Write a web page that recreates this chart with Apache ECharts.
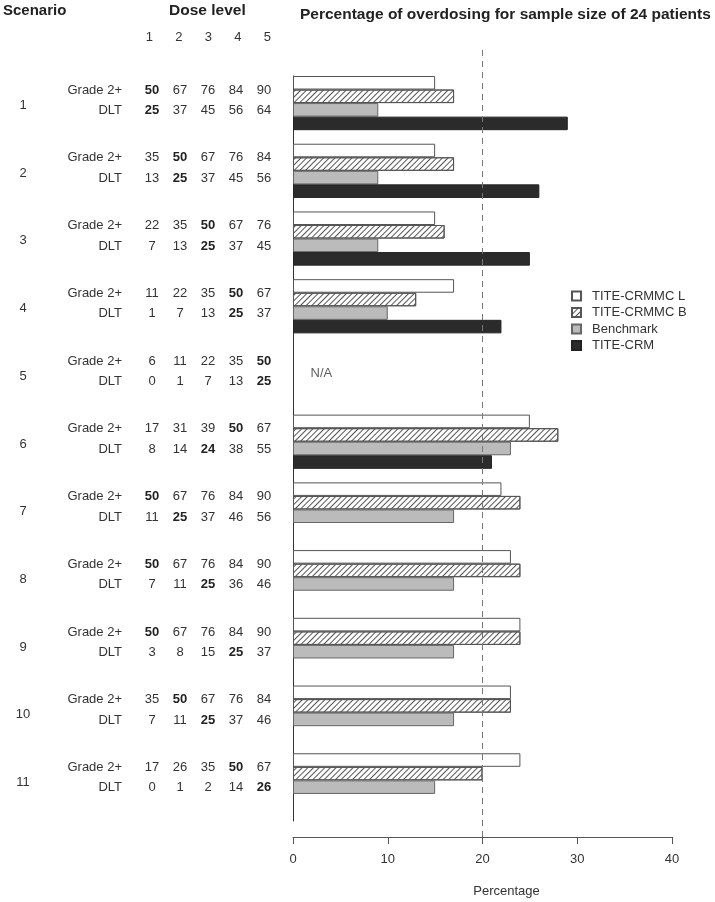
<!DOCTYPE html>
<html>
<head>
<meta charset="utf-8">
<script src="https://cdn.jsdelivr.net/npm/echarts@6/dist/echarts.min.js"></script>
<style>
  html, body { margin: 0; padding: 0; background: #fff; }
  #chart { width: 715px; height: 902px; }
</style>
</head>
<body>
<div id="chart"></div>
<script>
// scenarios and dose levels
const scenarios = ['1', '2', '3', '4', '5', '6', '7', '8', '9', '10', '11'];
const doseLevels = ['1', '2', '3', '4', '5'];

// percentage of overdosing (null = not available)
const titeCrmmcL = [15, 15, 15, 17, null, 25, 22, 23, 24, 23, 24];
const titeCrmmcB = [17, 17, 16, 13, null, 28, 24, 24, 24, 23, 20];
const benchmark  = [9, 9, 9, 10, null, 23, 17, 17, 17, 17, 15];
const titeCrm    = [29, 26, 25, 22, null, 21, null, null, null, null, null];

// true toxicity probabilities (%) per dose level
const grade2 = [
  [50, 67, 76, 84, 90], [35, 50, 67, 76, 84], [22, 35, 50, 67, 76], [11, 22, 35, 50, 67],
  [6, 11, 22, 35, 50], [17, 31, 39, 50, 67], [50, 67, 76, 84, 90], [50, 67, 76, 84, 90],
  [50, 67, 76, 84, 90], [35, 50, 67, 76, 84], [17, 26, 35, 50, 67]
];
const dlt = [
  [25, 37, 45, 56, 64], [13, 25, 37, 45, 56], [7, 13, 25, 37, 45], [1, 7, 13, 25, 37],
  [0, 1, 7, 13, 25], [8, 14, 24, 38, 55], [11, 25, 37, 46, 56], [7, 11, 25, 36, 46],
  [3, 8, 15, 25, 37], [7, 11, 25, 37, 46], [0, 1, 2, 14, 26]
];
// index of the target dose (bold)
const grade2Mtd = [0, 1, 2, 3, 4, 3, 0, 0, 0, 1, 3];
const dltMtd    = [0, 1, 2, 3, 4, 2, 1, 2, 3, 2, 4];
const rowNames = ['Grade 2+', 'DLT'];

const naScenario = 4;   // scenario 5 has no results
const naX = 3;

const FONT = "'Liberation Sans', Arial, sans-serif";
const TXT = '#333';

const chart = echarts.init(document.getElementById('chart'));

const row = (vals, bold) => vals.map((v, j) => j === bold ? '{b|' + v + '}' : '{v|' + v + '}').join('');

const barBase = {
  type: 'bar',
  xAxisIndex: 0,
  yAxisIndex: 0,
  barGap: '0%',
  barCategoryGap: '0%',
  silent: true
};

const tableAxis = {
  gridIndex: 0, type: 'category', data: scenarios, inverse: true, position: 'left', offset: 0,
  axisLine: { show: false }, axisTick: { show: false }, splitLine: { show: false }
};

const option = {
  animation: false,
  textStyle: { fontFamily: FONT },
  title: [
    {
      text: 'Percentage of overdosing for sample size of 24 patients',
      left: 300, top: 7, padding: 0,
      textStyle: { fontFamily: FONT, fontSize: 15.5, fontWeight: 'bold', color: '#222' }
    },
    {
      text: 'Scenario', left: 3, top: 3, padding: 0,
      textStyle: { fontFamily: FONT, fontSize: 15, fontWeight: 'bold', color: '#222' }
    },
    {
      text: 'Dose level', left: 169, top: 3, padding: 0,
      textStyle: { fontFamily: FONT, fontSize: 15.5, fontWeight: 'bold', color: '#222' }
    },
    {
      text: doseLevels.map(d => '{h|' + d + '}').join(''),
      left: 134.5, top: 31, padding: 0,
      textStyle: {
        fontWeight: 'normal',
        rich: { h: { width: 29.5, align: 'center', fontSize: 13, fontWeight: 'normal', color: TXT, fontFamily: FONT } }
      }
    }
  ],
  legend: {
    data: ['TITE-CRMMC L', 'TITE-CRMMC B', 'Benchmark', 'TITE-CRM'],
    orient: 'vertical',
    left: 571, top: 288,
    padding: 0,
    itemWidth: 9, itemHeight: 9, itemGap: 0.5,
    icon: 'rect',
    selectedMode: false,
    textStyle: { fontFamily: FONT, fontSize: 13, color: TXT, lineHeight: 16, padding: [0, 0, 0, 6] }
  },
  grid: [
    { left: 293, top: 76, width: 379, height: 745, outerBoundsMode: 'none' },
    { left: 293, top: 47, width: 379, height: 790, outerBoundsMode: 'none' }
  ],
  xAxis: [
    { gridIndex: 0, type: 'value', min: 0, max: 40, show: false },
    {
      gridIndex: 1, type: 'value', min: 0, max: 40, interval: 10, position: 'bottom',
      name: 'Percentage', nameLocation: 'middle', nameGap: 48,
      nameTextStyle: { fontFamily: FONT, fontSize: 13, color: TXT, padding: [0, 0, 0, 48] },
      axisLine: { show: true, onZero: false, lineStyle: { color: '#555', width: 1 } },
      axisTick: { show: true, length: 7, lineStyle: { color: '#555' } },
      axisLabel: { fontFamily: FONT, fontSize: 13, color: TXT, margin: 16 },
      splitLine: { show: false }
    }
  ],
  yAxis: [
    {
      gridIndex: 0, type: 'category', data: scenarios, inverse: true, position: 'left',
      axisLine: { show: true, lineStyle: { color: '#333', width: 1 } },
      axisTick: { show: false }, axisLabel: { show: false }, splitLine: { show: false }
    },
    Object.assign({}, tableAxis, {
      // dose table values
      axisLabel: {
        interval: 0, margin: 15, align: 'right', verticalAlign: 'middle',
        padding: [0, 0, 19, 0],
        formatter: (val, i) => row(grade2[i], grade2Mtd[i]) + '\n' + row(dlt[i], dltMtd[i]),
        rich: {
          v: { width: 28, align: 'center', fontSize: 13, lineHeight: 20.5, color: TXT, fontFamily: FONT },
          b: { width: 28, align: 'center', fontSize: 13, lineHeight: 20.5, color: '#222', fontWeight: 'bold', fontFamily: FONT }
        }
      }
    }),
    Object.assign({}, tableAxis, {
      // row labels
      axisLabel: {
        interval: 0, margin: 171, align: 'right', verticalAlign: 'middle',
        padding: [0, 0, 19, 0],
        formatter: () => rowNames.map(r => '{r|' + r + '}').join('\n'),
        rich: {
          r: { align: 'right', fontSize: 13, lineHeight: 20.5, color: TXT, fontFamily: FONT }
        }
      }
    }),
    Object.assign({}, tableAxis, {
      // scenario numbers
      axisLabel: {
        interval: 0, margin: 270, align: 'center', verticalAlign: 'middle',
        padding: [0, 0, 9, 0],
        formatter: val => '{s|' + val + '}',
        rich: {
          s: { fontSize: 13, lineHeight: 16, color: TXT, fontFamily: FONT }
        }
      }
    }),
    { gridIndex: 1, type: 'value', min: 0, max: 1, show: false }
  ],
  series: [
    Object.assign({}, barBase, {
      name: 'TITE-CRMMC L', data: titeCrmmcL,
      itemStyle: { color: '#ffffff', borderColor: '#555', borderWidth: 1 }
    }),
    Object.assign({}, barBase, {
      name: 'TITE-CRMMC B', data: titeCrmmcB,
      itemStyle: {
        color: '#ffffff', borderColor: '#555', borderWidth: 1,
        decal: {
          symbol: 'rect', symbolSize: 1,
          dashArrayX: [1, 0], dashArrayY: [1, 3],
          rotation: -Math.PI / 4,
          color: '#555'
        }
      }
    }),
    Object.assign({}, barBase, {
      name: 'Benchmark', data: benchmark,
      itemStyle: { color: '#bbbbbb', borderColor: '#666', borderWidth: 1 }
    }),
    Object.assign({}, barBase, {
      name: 'TITE-CRM', data: titeCrm,
      itemStyle: { color: '#2b2b2b', borderColor: '#222', borderWidth: 1 }
    }),
    // empty slot between scenario groups
    Object.assign({}, barBase, {
      name: 'gap', data: scenarios.map(() => null),
      itemStyle: { color: 'transparent' }
    }),
    {
      type: 'line', xAxisIndex: 1, yAxisIndex: 4,
      data: [[20, 0], [20, 1]],
      symbol: 'none', silent: true, z: 5,
      lineStyle: { color: '#777', width: 1, type: [6, 5] }
    },
    {
      type: 'scatter', xAxisIndex: 0, yAxisIndex: 0,
      data: [[naX, naScenario]],
      symbolSize: 0, silent: true,
      label: {
        show: true, formatter: 'N/A', position: 'inside', offset: [0, -7],
        fontFamily: FONT, fontSize: 13, color: TXT
      }
    }
  ]
};

chart.setOption(option);
</script>
</body>
</html>
